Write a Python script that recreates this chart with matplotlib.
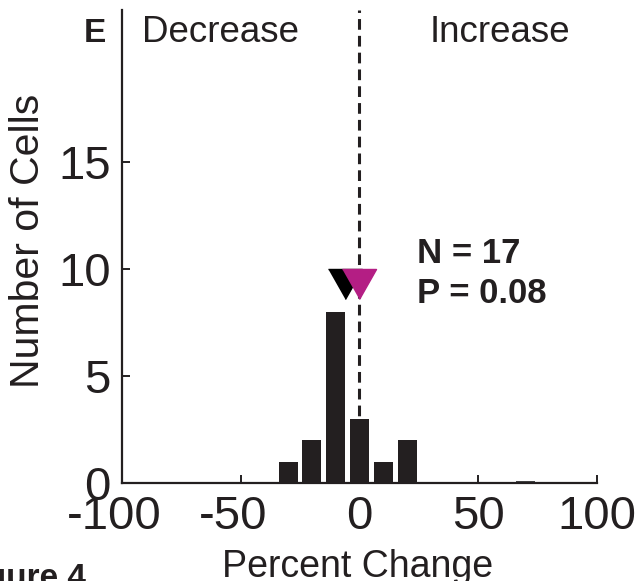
import matplotlib.pyplot as plt
from matplotlib.transforms import ScaledTranslation

### Data

bin_centers = [-30, -20, -10, 0, 10, 20]
cell_counts = [1, 2, 8, 3, 1, 2]
stray_bin = [70]
stray_count = [0.08]

mean_change = -6.0
median_change = 0.0
marker_level = 9.3

n_cells = 17
p_value = 0.08

xticks = [-100, -50, 0, 50, 100]
yticks = [0, 5, 10, 15]

bar_color = '#231F20'
magenta = '#B41E84'

plt.rcParams['font.family'] = ['Liberation Sans', 'DejaVu Sans']
plt.rcParams['axes.unicode_minus'] = False

fig = plt.figure(figsize=(6.36, 5.81), dpi=100)
ax = fig.add_axes([0.1918, 0.1687, 0.7469, 0.8141])

ax.axvline(0, color=bar_color, linestyle=(0, (3.5, 2)), linewidth=2.2, zorder=1)
ax.bar(bin_centers, cell_counts, width=8, color=bar_color, zorder=2)
ax.bar(stray_bin, stray_count, width=8, color='#444444', zorder=2)

# mean (black) and median (magenta) markers
tri = [(-17, 15), (17, 15), (0, -15)]
ax.plot([mean_change], [marker_level], marker=tri, markersize=24.5,
        color='black', linestyle='none', zorder=3)
ax.plot([median_change], [marker_level], marker=tri, markersize=24.5,
        color=magenta, linestyle='none', zorder=4)

ax.set_xlim(-100, 100)
ax.set_ylim(0, 22.1)
ax.set_xticks(xticks)
ax.set_yticks(yticks)
ax.spines['top'].set_visible(False)
ax.spines['right'].set_visible(False)
for side in ['left', 'bottom']:
    ax.spines[side].set_linewidth(1.6)
    ax.spines[side].set_color(bar_color)
ax.tick_params(direction='in', length=6, width=1.4, color=bar_color,
               labelsize=34, labelcolor=bar_color)
ax.tick_params(axis='x', pad=9)
ax.tick_params(axis='y', pad=8)

# matlab style: negative labels centred on the digits
shift = ScaledTranslation(-8 / 100, 0, fig.dpi_scale_trans)
for lab in ax.get_xticklabels():
    if lab.get_text().startswith('-'):
        lab.set_transform(lab.get_transform() + shift)

fig.text(28 / 636, 1 - 241 / 581, 'Number of Cells', rotation=90,
         ha='center', va='center', fontsize=29.5, color=bar_color)
fig.text(358 / 636, 4 / 581, 'Percent Change', ha='center', va='baseline',
         fontsize=27, color=bar_color)

fig.text(142 / 636, 1 - 42 / 581, 'Decrease', ha='left', va='baseline',
         fontsize=26.5, color=bar_color)
fig.text(430 / 636, 1 - 42 / 581, 'Increase', ha='left', va='baseline',
         fontsize=26.5, color=bar_color)
fig.text(84 / 636, 1 - 42 / 581, 'E', ha='left', va='baseline',
         fontsize=24, fontweight='bold', color=bar_color)

fig.text(417 / 636, 1 - 263 / 581, f'N = {n_cells}', ha='left', va='baseline',
         fontsize=25, fontweight='bold', color=bar_color)
fig.text(417 / 636, 1 - 303 / 581, f'P = {p_value:.2f}', ha='left', va='baseline',
         fontsize=25, fontweight='bold', color=bar_color)

fig.text(86 / 636, 1 - 563 / 581, 'Figure 4', ha='right', va='top',
         fontsize=24, fontweight='bold', color=bar_color)

fig.savefig('out.png', dpi=100)
